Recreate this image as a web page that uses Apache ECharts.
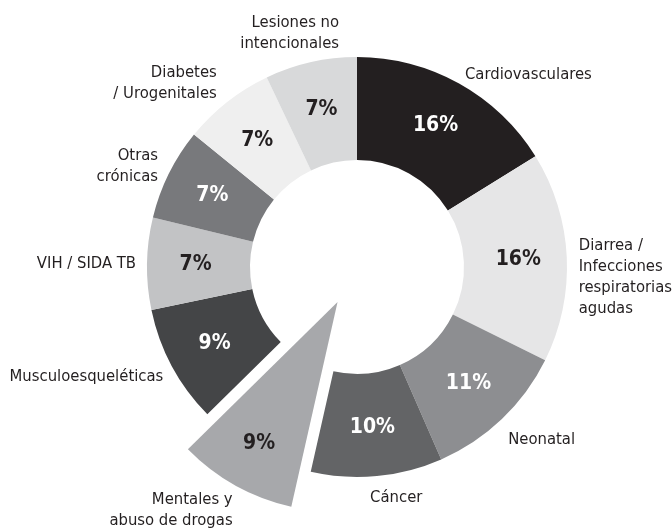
<!DOCTYPE html>
<html>
<head>
<meta charset="utf-8">
<style>
  html, body { margin: 0; padding: 0; background: #fff; }
  #chart { width: 672px; height: 530px; }
</style>
<script src="https://cdn.jsdelivr.net/npm/echarts@6/dist/echarts.min.js"></script>
</head>
<body>
<div id="chart"></div>
<script>
// categorias (en el sentido de las agujas del reloj desde arriba)
const categories = [
  "Cardiovasculares",
  "Diarrea /\nInfecciones\nrespiratorias\nagudas",
  "Neonatal",
  "Cáncer",
  "Mentales y\nabuso de drogas",
  "Musculoesqueléticas",
  "VIH / SIDA TB",
  "Otras\ncrónicas",
  "Diabetes\n/ Urogenitales",
  "Lesiones no\nintencionales"
];
// porcentajes
const shares = [16, 16, 11, 10, 9, 9, 7, 7, 7, 7];
// porcion destacada
const explodedIndex = 4;

// estilos
const sliceColors = ["#231f20", "#e6e6e7", "#8d8e91", "#636466", "#a7a8ab",
  "#444547", "#c2c3c5", "#78797c", "#efefef", "#d8d9da"];
const darkText = [false, true, false, false, true, false, true, false, true, true];
// pequeños ajustes de los nombres exteriores [dx, dy]
const labelNudge = [[-3, 2], [-3, 21], [-5, 12], [-11, 10], [6, 14],
  [5, 5], [4, 0], [3, -2], [0, -9], [34, -17]];
const FONT = "'DejaVu Sans Condensed', 'DejaVu Sans', sans-serif";

const chart = echarts.init(document.getElementById("chart"));

// cuña de la porcion separada + nombres por fuera
const wedgeData = shares.map((v, i) => ({
  name: categories[i],
  value: v,
  selected: i === explodedIndex,
  itemStyle: { color: i === explodedIndex ? sliceColors[i] : "rgba(0,0,0,0)" }
}));

// anillo con los porcentajes
const ringData = shares.map((v, i) => ({
  name: categories[i],
  value: v,
  selected: i === explodedIndex,
  itemStyle: { color: i === explodedIndex ? "rgba(0,0,0,0)" : sliceColors[i] },
  label: { color: darkText[i] ? "#231f20" : "#ffffff" }
}));

chart.setOption({
  animation: false,
  series: [
    {
      type: "pie",
      center: [357, 267],
      radius: [0, 210],
      startAngle: 90,
      silent: true,
      avoidLabelOverlap: false,
      selectedMode: "single",
      selectedOffset: 40,
      label: {
        position: "outside",
        formatter: "{b}",
        fontFamily: FONT,
        fontSize: 16.5,
        lineHeight: 21,
        color: "#231f20",
        distanceToLabelLine: 3
      },
      labelLine: { show: false, length: 12, length2: 0 },
      labelLayout: function (p) {
        const n = labelNudge[p.dataIndex];
        return { dx: n[0], dy: n[1] };
      },
      emphasis: { disabled: true },
      data: wedgeData
    },
    {
      type: "pie",
      center: [357, 267],
      radius: [107, 210],
      startAngle: 90,
      silent: true,
      avoidLabelOverlap: false,
      selectedMode: "single",
      selectedOffset: 40,
      label: {
        position: "inside",
        formatter: "{c}%",
        fontFamily: FONT,
        fontSize: 21,
        fontWeight: "bold"
      },
      labelLine: { show: false },
      emphasis: { disabled: true },
      data: ringData
    }
  ]
});
</script>
</body>
</html>
